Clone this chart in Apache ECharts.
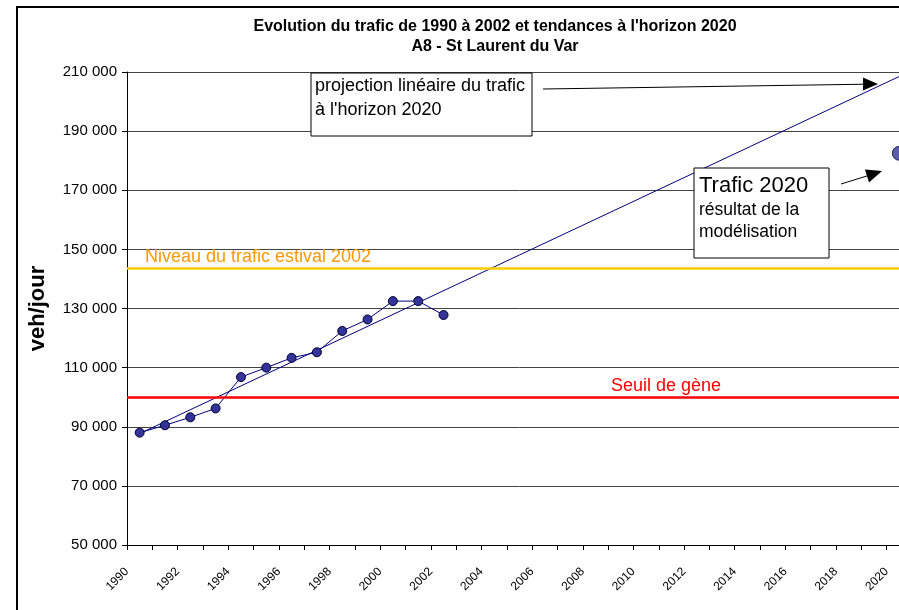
<!DOCTYPE html>
<html>
<head>
<meta charset="utf-8">
<script src="https://cdn.jsdelivr.net/npm/echarts@6/dist/echarts.min.js"></script>
<style>
  html, body { margin: 0; padding: 0; background: #fff; overflow: hidden; width: 899px; height: 610px; }
  /* the drawing is wider than the window; its right part is cut off */
  #chart { width: 920px; height: 610px; }
</style>
</head>
<body>
<div id="chart"></div>
<script>
// Years on the category axis (1990 to 2020)
const years = ['1990','1991','1992','1993','1994','1995','1996','1997','1998','1999','2000',
  '2001','2002','2003','2004','2005','2006','2007','2008','2009','2010','2011','2012',
  '2013','2014','2015','2016','2017','2018','2019','2020'];

// Observed daily traffic 1990-2002 (vehicles per day)
const traffic = [88000, 90500, 93200, 96200, 106800, 110000, 113300, 115200,
  122400, 126300, 132500, 132500, 127800];

// Linear trend endpoints
const trendYears = ['1990', '2020'];
const trendValues = [87700, 208500];

// Modelled traffic for 2020
const model2020 = 182500;

// Reference levels
const summerLevel2002 = 143500;
const congestionThreshold = 100000;

// Y tick values
const yMin = 50000, yMax = 210000, yStep = 20000;

const FONT = 'Liberation Sans, Arial, sans-serif';

const chart = echarts.init(document.getElementById('chart'), null, { renderer: 'canvas' });

const fmt = v => {
  const s = String(v);
  return s.length > 3 ? s.slice(0, s.length - 3) + ' ' + s.slice(-3) : s;
};

chart.setOption({
  animation: false,
  backgroundColor: '#fff',
  title: {
    text: 'Evolution du trafic de 1990 à 2002 et tendances à l\'horizon 2020\nA8 - St Laurent du Var',
    left: 490, top: 12, textAlign: 'center',
    textStyle: { fontFamily: FONT, fontSize: 16, fontWeight: 'bold', color: '#000', lineHeight: 20 }
  },
  grid: { left: 127, right: 8, top: 72, bottom: 65, containLabel: false },
  xAxis: {
    type: 'category',
    data: years,
    boundaryGap: true,
    axisLine: { lineStyle: { color: '#000', width: 1 } },
    axisTick: { show: true, interval: 0, length: 5, lineStyle: { color: '#000' } },
    axisLabel: {
      interval: 1, rotate: 45, margin: 12,
      padding: [0, 18, 0, 0],
      fontFamily: FONT, fontSize: 12, color: '#000'
    },
    splitLine: { show: false }
  },
  yAxis: {
    type: 'value',
    min: yMin, max: yMax, interval: yStep,
    name: 'veh/jour',
    nameLocation: 'middle', nameGap: 78, nameRotate: 90,
    nameTextStyle: { fontFamily: FONT, fontSize: 22, fontWeight: 'bold', color: '#000' },
    axisLine: { show: true, lineStyle: { color: '#000', width: 1 } },
    axisTick: { show: true, length: 5, lineStyle: { color: '#000' } },
    axisLabel: { margin: 10, fontFamily: FONT, fontSize: 15, color: '#000', formatter: fmt },
    splitLine: { show: true, lineStyle: { color: '#444', width: 1 } }
  },
  series: [
    {
      name: 'Seuils',
      type: 'line',
      data: [],
      silent: true,
      markLine: {
        silent: true,
        symbol: 'none',
        label: { show: false },
        data: [
          { yAxis: summerLevel2002, lineStyle: { color: '#FFCC00', width: 2.5, type: 'solid' } },
          { yAxis: congestionThreshold, lineStyle: { color: '#FF0000', width: 2.5, type: 'solid' } }
        ]
      },
      z: 1
    },
    {
      name: 'Tendance',
      type: 'line',
      data: trendYears.map((y, i) => [y, trendValues[i]]),
      symbol: 'none',
      lineStyle: { color: '#000080', width: 1 },
      z: 3
    },
    {
      name: 'Trafic',
      type: 'line',
      data: traffic,
      symbol: 'circle',
      symbolSize: 9,
      itemStyle: { color: '#333399', borderColor: '#000033', borderWidth: 1 },
      lineStyle: { color: '#000080', width: 1 },
      z: 4
    },
    {
      name: 'Trafic 2020',
      type: 'scatter',
      data: [['2020', model2020]],
      symbol: 'circle',
      symbolSize: 14,
      itemStyle: { color: '#333399', borderColor: '#000033', borderWidth: 1 },
      z: 5
    }
  ],
  graphic: [
    // outer frame
    { type: 'rect', z: 100, shape: { x: 17, y: 7, width: 1000, height: 1000 },
      style: { fill: 'none', stroke: '#000', lineWidth: 2 } },
    // reference level captions
    { type: 'text', z: 100, x: 145, y: 257,
      style: { text: 'Niveau du trafic estival 2002', fill: '#FF9900', font: '18px ' + FONT, textVerticalAlign: 'middle' } },
    { type: 'text', z: 100, x: 666, y: 386,
      style: { text: 'Seuil de gène', fill: '#FF0000', font: '18px ' + FONT, textAlign: 'center', textVerticalAlign: 'middle' } },
    // projection callout
    { type: 'rect', z: 100, shape: { x: 311, y: 73, width: 221, height: 63 },
      style: { fill: '#fff', stroke: '#000', lineWidth: 1 } },
    { type: 'text', z: 101, x: 315, y: 86,
      style: { text: 'projection linéaire du trafic', fill: '#000', font: '18px ' + FONT, textVerticalAlign: 'middle' } },
    { type: 'text', z: 101, x: 315, y: 110,
      style: { text: 'à l\'horizon 2020', fill: '#000', font: '18px ' + FONT, textVerticalAlign: 'middle' } },
    { type: 'line', z: 100, shape: { x1: 543, y1: 89, x2: 866, y2: 84.2 },
      style: { stroke: '#000', lineWidth: 1 } },
    { type: 'polygon', z: 100, shape: { points: [[878, 84], [863, 77.5], [863, 90.5]] },
      style: { fill: '#000' } },
    // model callout
    { type: 'rect', z: 100, shape: { x: 694, y: 168, width: 135, height: 90 },
      style: { fill: '#fff', stroke: '#000', lineWidth: 1 } },
    { type: 'text', z: 101, x: 699, y: 186,
      style: { text: 'Trafic 2020', fill: '#000', font: '22px ' + FONT, textVerticalAlign: 'middle' } },
    { type: 'text', z: 101, x: 699, y: 210,
      style: { text: 'résultat de la', fill: '#000', font: '17.5px ' + FONT, textVerticalAlign: 'middle' } },
    { type: 'text', z: 101, x: 699, y: 232,
      style: { text: 'modélisation', fill: '#000', font: '17.5px ' + FONT, textVerticalAlign: 'middle' } },
    { type: 'line', z: 100, shape: { x1: 841, y1: 184, x2: 870, y2: 175 },
      style: { stroke: '#000', lineWidth: 1 } },
    { type: 'polygon', z: 100, shape: { points: [[882, 171], [865, 169.5], [869, 182.5]] },
      style: { fill: '#000' } }
  ]
});
</script>
</body>
</html>
